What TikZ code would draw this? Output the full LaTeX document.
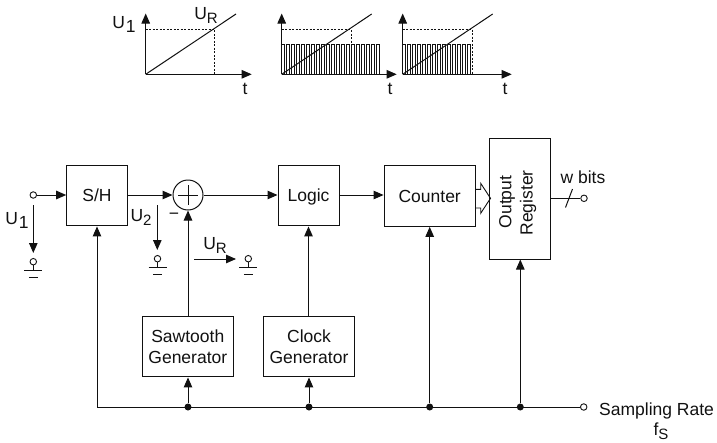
\documentclass[tikz,border=0pt]{standalone}
\usepackage{fontspec}
\setmainfont{Liberation Sans}
\usetikzlibrary{arrows.meta}
\definecolor{ink}{HTML}{111111}
\newcommand{\pulses}[3]{% origin x, count, period
  \foreach \i in {1,...,#2}{
    \draw[pulseline] ({#1+(\i-1)*#3},74.3) -- ({#1+(\i-1)*#3},44.3) -- ({#1+(\i-0.5)*#3},44.3) -- ({#1+(\i-0.5)*#3},74.3) -- ({#1+\i*#3},74.3);
  }
}
\newcommand{\grnd}[3]{% name, x, y of circle centre
  \coordinate (#1c) at (#2,#3);
  \coordinate (#1s) at (#2,{#3+9});
  \coordinate (#1l) at ({#2-9},{#3+9});
  \coordinate (#1r) at ({#2+9},{#3+9});
  \coordinate (#1ml) at ({#2-4.5},{#3+15.5});
  \coordinate (#1mr) at ({#2+4.5},{#3+15.5});
  \node[term] (#1t) at (#1c) {};
  \draw[conn] (#1t) -- (#1s);
  \draw[conn] (#1l) -- (#1r);
  \draw[conn] (#1ml) -- (#1mr);
}
\tikzset{
  x=1pt,y=-1pt,
  every node/.style={font=\fontsize{17.5}{20}\selectfont,text=ink,inner sep=0pt},
  conn/.style={draw=ink,line width=1pt},
  arr/.style={conn,-{Triangle[length=10pt,width=8.5pt]}},
  block/.style={draw=ink,line width=1pt,inner sep=0pt,align=center},
  term/.style={circle,draw=ink,line width=0.9pt,minimum size=6.5pt,fill=white},
  dot/.style={circle,fill=ink,minimum size=7pt},
  dotline/.style={draw=ink,line width=0.9pt,dash pattern=on 2pt off 1.5pt},
  pulseline/.style={draw=ink,line width=0.65pt},
}
\begin{document}
\begin{tikzpicture}
\useasboundingbox (0,0) rectangle (717,442);
% charts
\foreach \ox/\tip/\rx/\cname in {145.7/251.7/236/a, 281.7/396.7/371.7/b, 402.7/511.7/492.7/c}{
  \coordinate (o\cname) at (\ox,74.3);
  \coordinate (y\cname) at (\ox,13.5);
  \coordinate (x\cname) at (\tip,74.3);
  \coordinate (r\cname) at (\rx,14);
}
% pulses
\pulses{281.7}{20}{5}
\pulses{402.7}{14}{5}
\draw[dotline] (145.7,29.3) -- (214.7,29.3) -- (214.7,74.3);
\draw[dotline] (281.7,29.3) -- (351,29.3) -- (351,74.3);
\draw[dotline] (402.7,29.3) -- (472.3,29.3) -- (472.3,74.3);
\foreach \c in {a,b,c}{
  \draw[arr] (o\c) -- (y\c);
  \draw[arr] (o\c) -- (x\c);
  \draw[conn] (o\c) -- (r\c);
}
\node (ch1) at (124,24) {U\hspace{1pt}\raisebox{-4pt}{1}};
\node (ch2) at (206,15) {U\raisebox{-4pt}{\fontsize{15}{15}\selectfont R}};
\node (t1) at (245,89) {t};
\node (t2) at (390,89) {t};
\node (t3) at (505,89) {t};
% blocks
\node[block,minimum width=60.6pt,minimum height=60.7pt] (sh) at (97,195.6) {S/H};
\node[circle,draw=ink,line width=1pt,minimum size=30pt] (sum) at (188,195) {};
\draw[conn] (sum.center) ++(-10,0) -- ++(20,0);
\draw[conn] (sum.center) ++(0,-10) -- ++(0,20);
\node[block,minimum width=61pt,minimum height=60.7pt] (logic) at (308.5,195.6) {\raisebox{-6pt}[0pt][0pt]{Logic}};
\node[block,minimum width=91.3pt,minimum height=60.7pt] (counter) at (429.7,196) {Counter};
\node[block,minimum width=60.7pt,minimum height=121pt] (reg) at (520.3,198.5) {};
\node[rotate=90] (regt1) at (507,202) {Output};
\node[rotate=90] (regt2) at (528,203) {Register};
\node[block,minimum width=91pt,minimum height=60.7pt,align=center] (saw) at (187.8,346.6) {Sawtooth\\[1.5pt]Generator};
\node[block,minimum width=91pt,minimum height=60.7pt,align=center] (clk) at (309,346.6) {Clock\\[1.5pt]Generator};
% terminals
\node[term] (in) at (33.3,195) {};
\node[term] (out) at (584,198.3) {};
\node[term] (fs) at (583.7,407) {};
\node[anchor=west] (srt) at (599,411) {Sampling Rate};
\node (fst) at (661,431) {f\raisebox{-4pt}{\fontsize{15}{15}\selectfont S}};
\node (wb) at (583,177) {w bits};
% bus nodes
\coordinate (bl) at (97,407);
\node[dot] (d1) at (188,407) {};
\node[dot] (d2) at (309,407) {};
\node[dot] (d3) at (429.7,407) {};
\node[dot] (d4) at (520.3,407) {};
% connectors
\draw[arr] (in) -- (sh.west |- in);
\draw[arr] (sh.east |- sum) -- (sum);
\draw[arr] (sum) -- (logic.west |- sum);
\draw[arr] (logic.east |- sum) -- (counter.west |- sum);
\draw[conn] (reg.east |- out) -- (out);
\coordinate (sl1) at (565.5,207.5);
\coordinate (sl2) at (572.5,189);
\draw[conn] (sl1) -- (sl2);
\draw[conn] (bl) -- (fs);
\draw[arr] (bl) -- (sh.south -| bl);
\draw[arr] (d1) -- (saw.south -| d1);
\draw[arr] (d2) -- (clk.south -| d2);
\draw[arr] (saw.north -| sum) -- (sum.south);
\draw[arr] (clk.north -| logic) -- (logic.south);
\draw[arr] (d3) -- (counter.south -| d3);
\draw[arr] (d4) -- (reg.south -| d4);
% hollow arrow
\coordinate (h1) at (475.3,189.3);
\coordinate (h2) at (480.7,189.3);
\coordinate (h3) at (480.7,183.3);
\coordinate (h4) at (490.5,198.3);
\coordinate (h5) at (480.7,213.3);
\coordinate (h6) at (480.7,208);
\coordinate (h7) at (475.3,208);
\draw[draw=ink,line width=0.9pt] (h1) -- (h2) -- (h3) -- (h4) -- (h5) -- (h6) -- (h7);
% voltage arrows and grounds
\coordinate (u1a) at (33.3,205); \coordinate (u1b) at (33.3,253);
\draw[arr] (u1a) -- (u1b);
\grnd{ga}{33.3}{261.7}
\coordinate (u2a) at (157.3,205); \coordinate (u2b) at (157.3,250);
\draw[arr] (u2a) -- (u2b);
\grnd{gb}{157.5}{258.7}
\coordinate (ura) at (194,259); \coordinate (urb) at (236,259);
\draw[arr] (ura) -- (urb);
\grnd{gc}{248.3}{258.7}
\node (u1) at (17,220) {U\hspace{1pt}\raisebox{-4pt}{1}};
\node (u2) at (141,217) {U\raisebox{-4pt}{\fontsize{15}{15}\selectfont 2}};
\node (ur) at (215,245) {U\raisebox{-4pt}{\fontsize{15}{15}\selectfont R}};
\node (minus) at (174,216) {−};
\end{tikzpicture}
\end{document}
